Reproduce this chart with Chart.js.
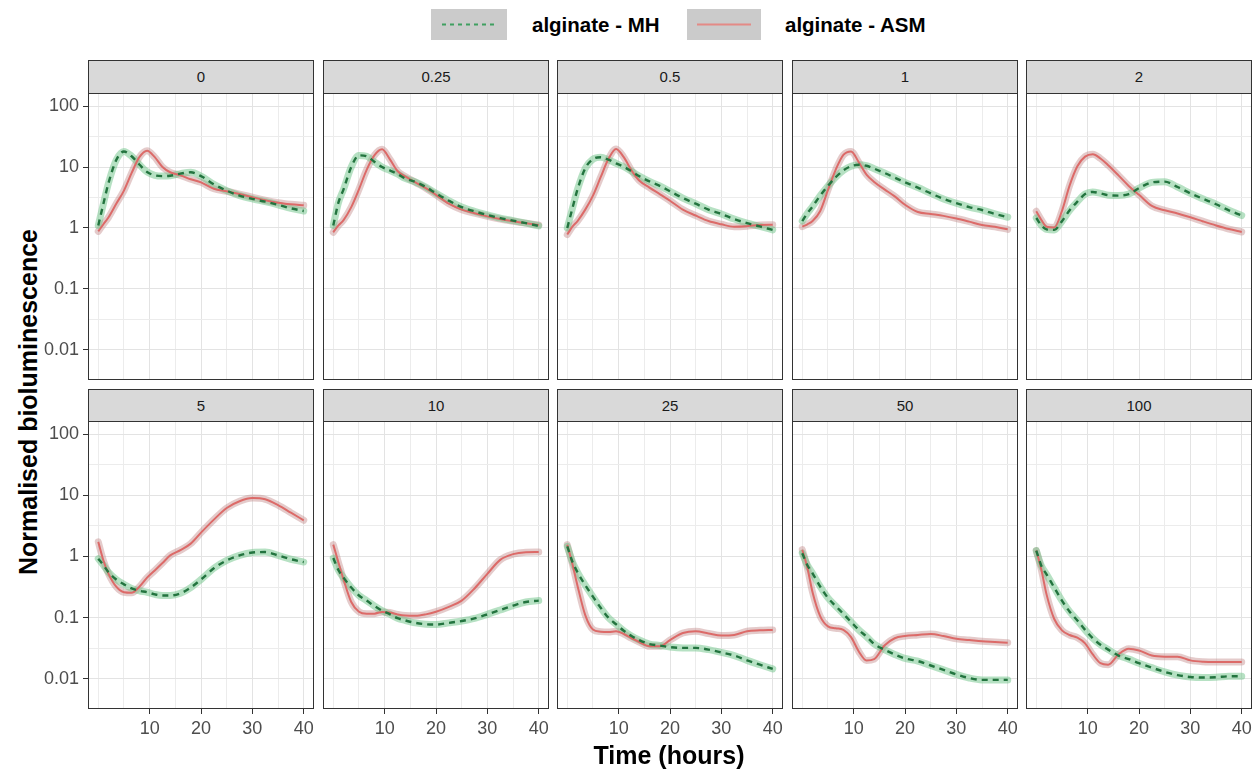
<!DOCTYPE html>
<html>
<head>
<meta charset="utf-8">
<script src="https://cdn.jsdelivr.net/npm/chart.js@4.4.1/dist/chart.umd.min.js"></script>
<style>
  html, body { margin:0; padding:0; background:#fff; }
  body { width:1258px; height:771px; position:relative; overflow:hidden; font-family:"Liberation Sans", Arial, sans-serif; }
  .strip { position:absolute; background:#d9d9d9; border:1px solid #333; box-sizing:border-box; text-align:center; font-size:15px; color:#1a1a1a; }
  .cv { position:absolute; }
  .title { position:absolute; font-weight:bold; font-size:25px; color:#000; white-space:nowrap; }
  .lkey { position:absolute; background:#cbcbcb; }
  .ltext { position:absolute; font-weight:bold; font-size:20.5px; color:#000; white-space:nowrap; }
</style>
</head>
<body>
<script>
// ---------------- DATA ----------------
const hours = [0, 1, 2, 3.5, 5, 6.5, 8, 9.5, 11, 12.5, 14, 16, 18, 20, 22.5, 25, 27.5, 30, 32.5, 35, 37.5, 40];
const panelLabels = ['0', '0.25', '0.5', '1', '2', '5', '10', '25', '50', '100'];
const seriesNames = ['alginate - MH', 'alginate - ASM'];

const mh_0    = [1.1, 2.5, 5.5, 13, 18, 15, 11, 8.3, 7.3, 7.1, 7.2, 7.8, 8.2, 7.1, 5.2, 4.1, 3.4, 3.0, 2.7, 2.4, 2.1, 1.9];
const mh_0_25 = [1.1, 2.6, 4.3, 10, 15.5, 15, 12.2, 10, 8.8, 7.7, 6.5, 5.7, 4.7, 3.7, 2.8, 2.2, 1.87, 1.64, 1.45, 1.32, 1.2, 1.08];
const mh_0_5  = [1.0, 2.1, 4.3, 9.5, 13.5, 14.5, 13.2, 11.5, 10.1, 8.5, 7.1, 5.8, 4.9, 4.0, 3.1, 2.5, 2.0, 1.7, 1.4, 1.2, 1.06, 0.93];
const mh_1    = [1.3, 1.75, 2.25, 3.4, 4.9, 6.8, 8.8, 10.3, 10.9, 10.5, 9.4, 8.0, 6.7, 5.6, 4.6, 3.7, 3.0, 2.55, 2.2, 1.97, 1.7, 1.5];
const mh_2    = [1.46, 1.1, 0.95, 0.93, 1.29, 1.95, 2.7, 3.6, 3.9, 3.7, 3.45, 3.4, 3.6, 4.5, 5.6, 5.75, 4.7, 3.7, 3.0, 2.45, 1.95, 1.6];
const mh_5    = [0.92, 0.72, 0.55, 0.42, 0.35, 0.30, 0.275, 0.26, 0.24, 0.23, 0.23, 0.25, 0.31, 0.42, 0.64, 0.86, 1.04, 1.16, 1.18, 1.04, 0.9, 0.81];
const mh_10   = [0.94, 0.6, 0.45, 0.31, 0.23, 0.19, 0.155, 0.13, 0.114, 0.098, 0.09, 0.082, 0.078, 0.077, 0.082, 0.088, 0.097, 0.113, 0.133, 0.157, 0.18, 0.19];
const mh_25   = [1.46, 0.82, 0.55, 0.34, 0.22, 0.145, 0.1, 0.078, 0.061, 0.05, 0.043, 0.037, 0.035, 0.033, 0.032, 0.032, 0.030, 0.027, 0.024, 0.020, 0.017, 0.0145];
const mh_50   = [1.13, 0.72, 0.53, 0.32, 0.21, 0.155, 0.115, 0.085, 0.063, 0.049, 0.037, 0.03, 0.025, 0.0215, 0.0195, 0.0165, 0.014, 0.0118, 0.0103, 0.0096, 0.0096, 0.0096];
const mh_100  = [1.25, 0.7, 0.51, 0.31, 0.19, 0.125, 0.09, 0.063, 0.046, 0.036, 0.03, 0.024, 0.021, 0.018, 0.0152, 0.013, 0.0115, 0.0107, 0.0105, 0.0106, 0.011, 0.011];

const asm_0    = [0.88, 1.15, 1.5, 2.5, 4.1, 8, 14.5, 18.5, 14.5, 10, 8.2, 7.3, 6.3, 5.6, 4.4, 4.0, 3.6, 3.2, 2.85, 2.6, 2.45, 2.35];
const asm_0_25 = [0.85, 1.1, 1.35, 2.2, 4.3, 9, 15.5, 19.5, 13.5, 8.6, 7.0, 5.6, 4.5, 3.5, 2.5, 2.0, 1.75, 1.55, 1.4, 1.29, 1.2, 1.12];
const asm_0_5  = [0.78, 1.05, 1.3, 2.0, 3.4, 6.8, 13.5, 19.8, 14.5, 8.8, 6.0, 4.6, 3.6, 2.8, 2.0, 1.6, 1.3, 1.15, 1.05, 1.07, 1.12, 1.13];
const asm_1    = [1.05, 1.15, 1.3, 1.9, 4.2, 9.0, 15.8, 18.0, 12.0, 7.5, 5.7, 4.3, 3.3, 2.4, 1.83, 1.7, 1.58, 1.43, 1.27, 1.12, 1.05, 0.95];
const asm_2    = [1.88, 1.35, 1.05, 1.02, 1.9, 5.0, 10.3, 14.8, 16.2, 13.8, 10.7, 7.3, 4.9, 3.5, 2.3, 1.95, 1.73, 1.5, 1.28, 1.1, 0.96, 0.86];
const asm_5    = [1.73, 0.86, 0.52, 0.32, 0.26, 0.255, 0.32, 0.45, 0.59, 0.78, 1.04, 1.27, 1.62, 2.45, 4.0, 6.2, 8.0, 9.0, 8.6, 6.9, 5.2, 3.9];
const asm_10   = [1.56, 0.8, 0.42, 0.18, 0.125, 0.116, 0.116, 0.124, 0.121, 0.113, 0.108, 0.107, 0.113, 0.125, 0.15, 0.19, 0.3, 0.52, 0.88, 1.09, 1.17, 1.18];
const asm_25   = [1.56, 0.75, 0.33, 0.11, 0.064, 0.059, 0.058, 0.06, 0.054, 0.046, 0.04, 0.034, 0.034, 0.043, 0.056, 0.06, 0.055, 0.051, 0.052, 0.06, 0.062, 0.063];
const asm_50   = [1.29, 0.65, 0.26, 0.105, 0.072, 0.067, 0.063, 0.048, 0.028, 0.02, 0.021, 0.035, 0.046, 0.05, 0.052, 0.054, 0.05, 0.045, 0.043, 0.041, 0.04, 0.039];
const asm_100  = [1.25, 0.6, 0.24, 0.095, 0.062, 0.052, 0.047, 0.038, 0.025, 0.018, 0.017, 0.025, 0.031, 0.029, 0.024, 0.023, 0.023, 0.02, 0.019, 0.0188, 0.0188, 0.0188];

const yMajorTicks = [0.01, 0.1, 1, 10, 100];
const yTickLabels = ['0.01', '0.1', '1', '10', '100'];
const xMajorTicks = [10, 20, 30, 40];
const xTickLabels = ['10', '20', '30', '40'];
const xMinorTicks = [0, 5, 15, 25, 35];

const mhSeries  = [mh_0, mh_0_25, mh_0_5, mh_1, mh_2, mh_5, mh_10, mh_25, mh_50, mh_100];
const asmSeries = [asm_0, asm_0_25, asm_0_5, asm_1, asm_2, asm_5, asm_10, asm_25, asm_50, asm_100];

// ---------------- STYLE / LAYOUT ----------------
const FONT = '"Liberation Sans", Arial, sans-serif';
const X_MIN = -2, X_MAX = 42;
const Y_MIN = 0.00321, Y_MAX = 163.7;
const yMinorTicks = yMajorTicks.slice(0, -1).map((v, i) => Math.sqrt(v * yMajorTicks[i + 1]));
const ML = 44, MT = 20, MR = 20, MB = 36;
const W = 226;
const rowPlotTop = [93, 421];
const rowPlotH = [287, 288];
const rowStripTop = [60, 389];
const C_MH = '#23743f', C_ASM = '#dc6a68';
const C_MH_BAND = 'rgba(110,196,135,0.5)', C_ASM_BAND = 'rgba(196,140,140,0.45)';

function near(a, b) { return Math.abs(a - b) <= Math.abs(b) * 1e-6 + 1e-9; }
function idxIn(arr, v) { for (let i = 0; i < arr.length; i++) if (near(v, arr[i])) return i; return -1; }

const borderPlugin = {
  id: 'panelBorder',
  afterDraw(chart) {
    const { ctx, chartArea: a } = chart;
    ctx.save();
    ctx.strokeStyle = '#333';
    ctx.lineWidth = 1;
    ctx.strokeRect(a.left + 0.5, a.top + 0.5, a.right - a.left - 1, a.bottom - a.top - 1);
    ctx.restore();
  }
};

function pts(vals) { return hours.map((h, i) => ({ x: h, y: vals[i] })); }

for (let p = 0; p < 10; p++) {
  const row = Math.floor(p / 5), col = p % 5;
  const left = Math.round(88 + col * 234.5);
  const H = rowPlotH[row];

  const strip = document.createElement('div');
  strip.className = 'strip';
  strip.style.left = left + 'px';
  strip.style.top = rowStripTop[row] + 'px';
  strip.style.width = W + 'px';
  const sh = rowPlotTop[row] - rowStripTop[row] + 1;
  strip.style.height = sh + 'px';
  strip.style.lineHeight = (sh - 2) + 'px';
  strip.textContent = panelLabels[p];
  document.body.appendChild(strip);

  const cv = document.createElement('canvas');
  cv.className = 'cv';
  cv.width = ML + W + MR;
  cv.height = MT + H + MB;
  cv.style.left = (left - ML) + 'px';
  cv.style.top = (rowPlotTop[row] - MT) + 'px';
  cv.style.width = cv.width + 'px';
  cv.style.height = cv.height + 'px';
  document.body.appendChild(cv);

  const showX = row === 1, showY = col === 0;

  new Chart(cv.getContext('2d'), {
    type: 'line',
    data: {
      datasets: [
        { label: seriesNames[0], data: pts(mhSeries[p]), borderColor: C_MH, borderWidth: 2.4, borderDash: [6, 5], pointRadius: 0, fill: false, cubicInterpolationMode: 'monotone' },
        { label: seriesNames[1], data: pts(asmSeries[p]), borderColor: C_ASM, borderWidth: 2, pointRadius: 0, fill: false, cubicInterpolationMode: 'monotone' },
        { label: seriesNames[0] + ' band', data: pts(mhSeries[p]), borderColor: C_MH_BAND, borderWidth: 7, borderCapStyle: 'round', pointRadius: 0, fill: false, cubicInterpolationMode: 'monotone' },
        { label: seriesNames[1] + ' band', data: pts(asmSeries[p]), borderColor: C_ASM_BAND, borderWidth: 7, borderCapStyle: 'round', pointRadius: 0, fill: false, cubicInterpolationMode: 'monotone' }
      ]
    },
    options: {
      responsive: false,
      animation: false,
      events: [],
      layout: { padding: { top: MT, right: MR, left: 0, bottom: 0 } },
      plugins: { legend: { display: false }, tooltip: { enabled: false } },
      scales: {
        x: {
          type: 'linear', min: X_MIN, max: X_MAX,
          afterBuildTicks: s => { s.ticks = xMinorTicks.concat(xMajorTicks).sort((a, b) => a - b).map(v => ({ value: v })); },
          afterFit: s => { s.height = MB; },
          ticks: {
            display: showX, autoSkip: false, maxRotation: 0, minRotation: 0, padding: 4,
            color: '#4d4d4d', font: { size: 18, family: FONT },
            callback: v => { const i = idxIn(xMajorTicks, v); return i >= 0 ? xTickLabels[i] : ''; }
          },
          grid: {
            drawTicks: showX, tickLength: 5, tickWidth: 1,
            color: c => idxIn(xMajorTicks, c.tick.value) >= 0 ? '#e3e3e3' : '#ececec',
            lineWidth: 1,
            tickColor: c => idxIn(xMajorTicks, c.tick.value) >= 0 ? '#333' : 'rgba(0,0,0,0)'
          },
          border: { display: false }
        },
        y: {
          type: 'logarithmic', min: Y_MIN, max: Y_MAX,
          afterBuildTicks: s => { s.ticks = yMinorTicks.concat(yMajorTicks).sort((a, b) => a - b).map(v => ({ value: v })); },
          afterFit: s => { s.width = ML; },
          ticks: {
            display: showY, autoSkip: false, padding: 4,
            color: '#4d4d4d', font: { size: 18, family: FONT },
            callback: v => { const i = idxIn(yMajorTicks, v); return i >= 0 ? yTickLabels[i] : ''; }
          },
          grid: {
            drawTicks: showY, tickLength: 5, tickWidth: 1,
            color: c => idxIn(yMajorTicks, c.tick.value) >= 0 ? '#e3e3e3' : '#ececec',
            lineWidth: 1,
            tickColor: c => idxIn(yMajorTicks, c.tick.value) >= 0 ? '#333' : 'rgba(0,0,0,0)'
          },
          border: { display: false }
        }
      }
    },
    plugins: [borderPlugin]
  });
}

// ---------------- TITLES & LEGEND ----------------
function addDiv(cls, text, css) {
  const d = document.createElement('div');
  d.className = cls;
  if (text) d.textContent = text;
  Object.assign(d.style, css);
  document.body.appendChild(d);
  return d;
}
addDiv('title', 'Normalised bioluminescence', { left: '28px', top: '402px', transform: 'translate(-50%,-50%) rotate(-90deg)' });
addDiv('title', 'Time (hours)', { left: '669px', top: '755px', transform: 'translate(-50%,-50%)' });

const k1 = addDiv('lkey', '', { left: '431px', top: '9px', width: '76px', height: '31px' });
k1.innerHTML = '<svg width="76" height="31"><line x1="11" y1="15.5" x2="66" y2="15.5" stroke="#3f9f60" stroke-width="2" stroke-dasharray="4 4"/></svg>';
addDiv('ltext', seriesNames[0], { left: '532px', top: '25px', transform: 'translateY(-50%)' });
const k2 = addDiv('lkey', '', { left: '687px', top: '9px', width: '74px', height: '31px' });
k2.innerHTML = '<svg width="74" height="31"><line x1="10" y1="15.5" x2="64" y2="15.5" stroke="#e48a86" stroke-width="2"/></svg>';
addDiv('ltext', seriesNames[1], { left: '785px', top: '25px', transform: 'translateY(-50%)' });
</script>
</body>
</html>
